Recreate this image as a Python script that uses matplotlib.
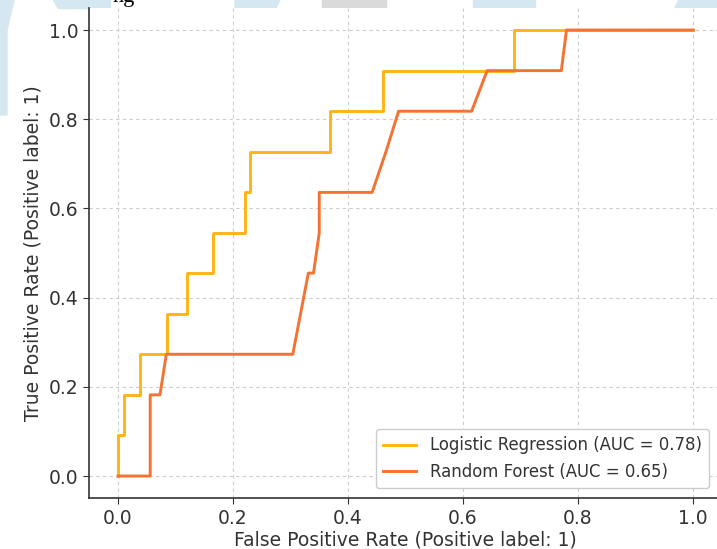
import matplotlib
matplotlib.use("Agg")
import matplotlib.pyplot as plt
from matplotlib.patches import Polygon

# ROC curves (fpr, tpr)
lr_fpr = [0.0, 0.0, 0.011, 0.011, 0.038, 0.038, 0.085, 0.085, 0.12, 0.12,
          0.166, 0.166, 0.22, 0.22, 0.23, 0.23, 0.368, 0.368, 0.46, 0.46,
          0.689, 0.689, 1.0]
lr_tpr = [0.0, 0.091, 0.091, 0.182, 0.182, 0.273, 0.273, 0.364, 0.364, 0.455,
          0.455, 0.545, 0.545, 0.636, 0.636, 0.727, 0.727, 0.818, 0.818, 0.909,
          0.909, 1.0, 1.0]

rf_fpr = [0.0, 0.056, 0.056, 0.073, 0.084, 0.304, 0.331, 0.34, 0.35, 0.35,
          0.442, 0.466, 0.488, 0.615, 0.642, 0.771, 0.78, 1.0]
rf_tpr = [0.0, 0.0, 0.182, 0.182, 0.273, 0.273, 0.455, 0.455, 0.545, 0.636,
          0.636, 0.727, 0.818, 0.818, 0.909, 0.909, 1.0, 1.0]

labels = ['Logistic Regression (AUC = 0.78)', 'Random Forest (AUC = 0.65)']
colors = ['#ffb414', '#f47232']

W, H = 717, 549
fig = plt.figure(figsize=(W / 100, H / 100), dpi=100)

# background bits of the page the chart was cut from
blue = '#d5e7f0'
def px_poly(pts, color):
    fig.add_artist(Polygon([(x / W, 1 - y / H) for x, y in pts], closed=True,
                           transform=fig.transFigure, color=color, zorder=-5))

px_poly([(0, 0), (14, 0), (7, 30), (7, 115), (0, 115)], blue)
px_poly([(53, 0), (110, 0), (110, 8), (58, 8)], blue)
px_poly([(235, 0), (280, 0), (276, 8), (235, 8)], blue)
px_poly([(322, 0), (386, 0), (386, 8), (322, 8)], '#dadada')
px_poly([(473, 0), (535, 0), (535, 8), (473, 8)], blue)
px_poly([(678, 0), (717, 0), (717, 8), (674, 8)], blue)
fig.text(112 / W, 1 - 2 / H, 'ng', fontsize=16, family='Liberation Serif',
         va='baseline', color='black', zorder=-4)

ax = fig.add_axes([89.25 / W, 0.0923, 632.5 / W, 0.8936])
ax.set_facecolor('white')

ax.plot(lr_fpr, lr_tpr, color=colors[0], lw=2.1, label=labels[0])
ax.plot(rf_fpr, rf_tpr, color=colors[1], lw=2.1, label=labels[1])

ax.set_xlim(-0.05, 1.05)
ax.set_ylim(-0.05, 1.05)
ax.set_xticks([0.0, 0.2, 0.4, 0.6, 0.8, 1.0])
ax.set_yticks([0.0, 0.2, 0.4, 0.6, 0.8, 1.0])

ax.grid(True, linestyle=(0, (3, 3)), color='#cccccc', linewidth=0.8)
ax.set_axisbelow(True)

ax.spines['top'].set_visible(False)
ax.spines['right'].set_visible(False)
for s in ['left', 'bottom']:
    ax.spines[s].set_color('#333333')
    ax.spines[s].set_linewidth(1.2)

ax.tick_params(labelsize=13.5, colors='#333333', length=4)
ax.set_xlabel('False Positive Rate (Positive label: 1)', fontsize=13.5, color='#333333', labelpad=2)
ax.set_ylabel('True Positive Rate (Positive label: 1)', fontsize=13.5, color='#333333', labelpad=5)

leg = ax.legend(loc='lower right', fontsize=11.9, framealpha=1,
                edgecolor='#cccccc', borderpad=0.45, handlelength=2.0,
                bbox_to_anchor=(0.993, 0.004))
for t in leg.get_texts():
    t.set_color('#333333')

fig.savefig('out.png', dpi=100)
